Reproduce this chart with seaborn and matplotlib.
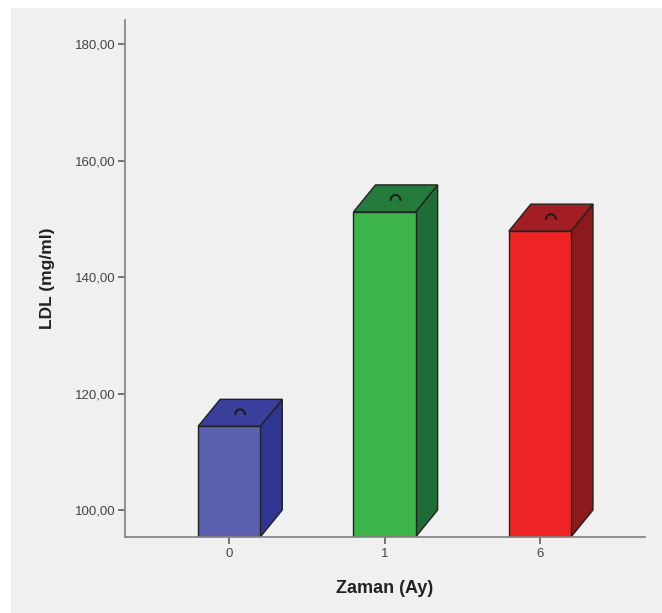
import matplotlib
matplotlib.use("Agg")
import matplotlib.pyplot as plt
import seaborn as sns
import pandas as pd
from matplotlib.patches import Polygon, Arc, Rectangle

# Data
zaman = ["0", "1", "6"]
ldl = [114.4, 151.2, 147.9]

front_colors = ["#5b60b0", "#3db54a", "#ee2424"]
top_colors = ["#3a3f9c", "#247b3c", "#a31e22"]
side_colors = ["#2f3590", "#1e6d37", "#8c1a1d"]

df = pd.DataFrame({"Zaman": zaman, "LDL": ldl})

sns.set_style("white")
plt.rcParams["font.family"] = ["Liberation Sans", "DejaVu Sans"]

bg = "#eff0ef"
fig = plt.figure(figsize=(6.62, 6.13), dpi=100, facecolor=bg)
ax = fig.add_axes([0.189, 0.124, 0.785, 0.843])
ax.set_facecolor(bg)

sns.barplot(data=df, x="Zaman", y="LDL", hue="Zaman", palette=front_colors,
            saturation=1, width=0.4, legend=False, ax=ax, edgecolor="#222222",
            linewidth=1.0, zorder=3)

ymin, ymax = 95.4, 184.1
ax.set_ylim(ymin, ymax)
ax.set_xlim(-0.67, 2.675)

# fake 3D depth for each bar
dx, dy = 0.1415, 4.63
for i, p in enumerate(ax.patches):
    x0 = p.get_x()
    x1 = x0 + p.get_width()
    top = p.get_height()
    side = Polygon([(x1, ymin), (x1, top), (x1 + dx, top + dy), (x1 + dx, ymin + dy)],
                   closed=True, facecolor=side_colors[i], edgecolor="#222222",
                   linewidth=1.0, zorder=2)
    topf = Polygon([(x0, top), (x1, top), (x1 + dx, top + dy), (x0 + dx, top + dy)],
                   closed=True, facecolor=top_colors[i], edgecolor="#222222",
                   linewidth=1.0, zorder=2)
    ax.add_patch(side)
    ax.add_patch(topf)
    cx = (x0 + x1) / 2 + dx / 2
    cy = top + dy / 2
    ax.add_patch(Arc((cx, cy - 0.4), 0.065, 2.0, theta1=0, theta2=180,
                     color="#1a1a1a", linewidth=1.4, zorder=4))

ax.set_yticks([100, 120, 140, 160, 180])
ax.set_yticklabels([f"{v},00" for v in [100, 120, 140, 160, 180]])

for s in ["top", "right"]:
    ax.spines[s].set_visible(False)
for s in ["left", "bottom"]:
    ax.spines[s].set_color("#808080")
    ax.spines[s].set_linewidth(1.2)
    ax.spines[s].set_zorder(5)

ax.tick_params(axis="both", which="both", length=5, width=1.2, color="#606060",
               labelsize=9.5, labelcolor="#444444", direction="out", pad=3,
               left=True, bottom=True)
ax.tick_params(axis="y", pad=2)

ax.set_xlabel("Zaman (Ay)", fontsize=13, fontweight="bold", color="#222222", labelpad=14)
ax.set_ylabel("LDL (mg/ml)", fontsize=12.5, fontweight="bold", color="#222222", labelpad=14)

# white frame strips at top and left like the screenshot
fig.add_artist(Rectangle((0, 1 - 8 / 613), 1, 8 / 613, transform=fig.transFigure,
                         facecolor="white", edgecolor="none", zorder=10))
fig.add_artist(Rectangle((0, 0), 11 / 662, 1, transform=fig.transFigure,
                         facecolor="white", edgecolor="none", zorder=10))

fig.savefig("out.png", dpi=100, facecolor=bg)
